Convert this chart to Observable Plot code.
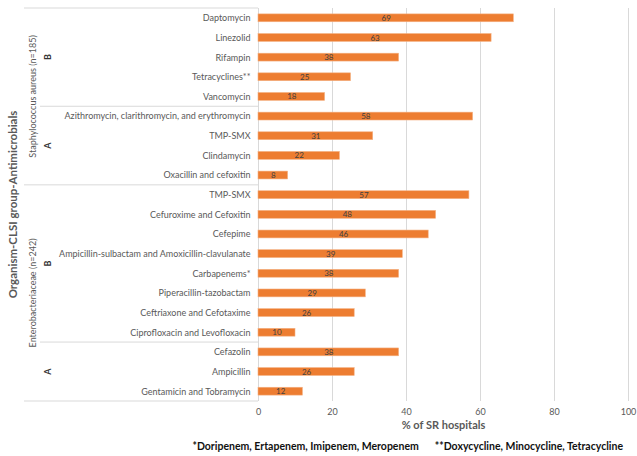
<!DOCTYPE html>
<html>
<head>
<meta charset="utf-8">
<script src="https://cdn.jsdelivr.net/npm/d3@7"></script>
<script src="https://cdn.jsdelivr.net/npm/@observablehq/plot@0.6"></script>
<style>
  body { margin: 0; background: #fff; }
  #chart { width: 637px; font-family: Lato, "Open Sans", sans-serif; }
  .footnote {
    display: flex; justify-content: flex-end; gap: 16px;
    height: 19px; line-height: 19px; padding-right: 14px;
    font-size: 10.5px; font-weight: bold; color: #111;
  }
</style>
</head>
<body>
<div id="chart"></div>
<script>
// Antimicrobials, top to bottom
const antimicrobials = [
  "Daptomycin", "Linezolid", "Rifampin", "Tetracyclines**", "Vancomycin",
  "Azithromycin, clarithromycin, and erythromycin", "TMP-SMX", "Clindamycin", "Oxacillin and cefoxitin",
  "TMP-SMX", "Cefuroxime and Cefoxitin", "Cefepime",
  "Ampicillin-sulbactam and Amoxicillin-clavulanate", "Carbapenems*", "Piperacillin-tazobactam",
  "Ceftriaxone and Cefotaxime", "Ciprofloxacin and Levofloxacin",
  "Cefazolin", "Ampicillin", "Gentamicin and Tobramycin"
];
// % of SR hospitals
const values = [69, 63, 38, 25, 18, 58, 31, 22, 8, 57, 48, 46, 39, 38, 29, 26, 10, 38, 26, 12];
// Organism and CLSI group of each row
const organisms = [
  ...Array(9).fill("Staphylococcus aureus (n=185)"),
  ...Array(11).fill("Enterobacteriaceae (n=242)")
];
const clsiGroups = ["B","B","B","B","B","A","A","A","A","B","B","B","B","B","B","B","B","A","A","A"];
const xTicks = [0, 20, 40, 60, 80, 100];
const xLabel = "% of SR hospitals";
const yTitle = "Organism-CLSI group-Antimicrobials";
const footnotes = ["*Doripenem, Ertapenem, Imipenem, Meropenem", "**Doxycycline, Minocycline, Tetracycline"];

const rows = antimicrobials.map((name, i) => ({
  key: String(i), name, value: values[i], organism: organisms[i], group: clsiGroups[i]
}));

const lineColor = "#d9d9d9";
const textColor = "#595959";

// Runs of equal consecutive values -> [start, end]
function runs(arr) {
  const out = [];
  arr.forEach((v, i) => {
    if (i > 0 && arr[i - 1] === v) out[out.length - 1].end = i;
    else out.push({ label: v, start: i, end: i });
  });
  return out;
}

// Multi-level category labels and separators on the left
function hierarchy(index, scales, values, dimensions) {
  const y = scales.y;
  const step = y.step();
  const cy = i => y(String(i)) + y.bandwidth() / 2;
  const ml = dimensions.marginLeft;
  const g = d3.create("svg:g").attr("font-family", "Lato, sans-serif");
  const xOuter = ml - 240, xOrg = ml - 228, xGroup = ml - 211;
  const orgRuns = runs(organisms);
  const grpRuns = runs(organisms.map((o, i) => o + "|" + clsiGroups[i]));

  const hline = (yy, x1) => g.append("line")
    .attr("x1", x1).attr("x2", ml).attr("y1", yy).attr("y2", yy)
    .attr("stroke", lineColor).attr("stroke-width", 1);

  hline(cy(0) - step / 2, xOuter + 6);
  orgRuns.forEach(r => hline(cy(r.end) + step / 2, xOuter + 6));
  grpRuns.forEach(r => { if (!orgRuns.some(o => o.end === r.end)) hline(cy(r.end) + step / 2, xGroup - 7); });

  const vtext = (x, yy, txt, size, weight, fill) => g.append("text")
    .attr("transform", `translate(${x},${yy}) rotate(-90)`)
    .attr("text-anchor", "middle").attr("dominant-baseline", "central")
    .attr("font-size", size).attr("font-weight", weight).attr("fill", fill)
    .text(txt);

  vtext(xOuter - 6, (cy(0) + cy(antimicrobials.length - 1)) / 2, yTitle, 11.5, "bold", textColor);
  orgRuns.forEach(r => vtext(xOrg + 2, (cy(r.start) + cy(r.end)) / 2, r.label, 9, "normal", textColor));
  grpRuns.forEach(r => vtext(xGroup, (cy(r.start) + cy(r.end)) / 2, clsiGroups[r.start], 9, "bold", "#333"));
  return g.node();
}

const chart = Plot.plot({
  width: 637,
  height: 437,
  marginTop: 8,
  marginBottom: 36,
  marginLeft: 258,
  marginRight: 9,
  style: { fontFamily: "Lato, sans-serif", fontSize: "9px", color: textColor, background: "#fff" },
  x: { domain: [0, 100], ticks: xTicks, tickSize: 0, tickPadding: 7, label: null },
  y: {
    domain: rows.map(d => d.key), paddingInner: 0.6, paddingOuter: 0.3, round: false,
    tickSize: 0, tickPadding: 8, tickFormat: k => antimicrobials[+k], label: null
  },
  marks: [
    Plot.ruleX(xTicks, { stroke: lineColor, strokeWidth: 1 }),
    Plot.barX(rows, { x: "value", y: "key", fill: "#ED7D31", stroke: "#F4B183", strokeWidth: 0.6 }),
    Plot.text(rows, {
      x: d => d.value / 2, y: "key", text: d => String(d.value),
      fill: "#404040", fontSize: 8
    }),
    Plot.text([xLabel], {
      text: d => d, frameAnchor: "bottom", dy: 27,
      fontSize: 11, fontWeight: "bold", fill: textColor
    }),
    hierarchy
  ]
});

const root = document.getElementById("chart");
root.append(chart);
const foot = document.createElement("div");
foot.className = "footnote";
footnotes.forEach(t => {
  const s = document.createElement("span");
  s.textContent = t;
  foot.append(s);
});
root.append(foot);
</script>
</body>
</html>
